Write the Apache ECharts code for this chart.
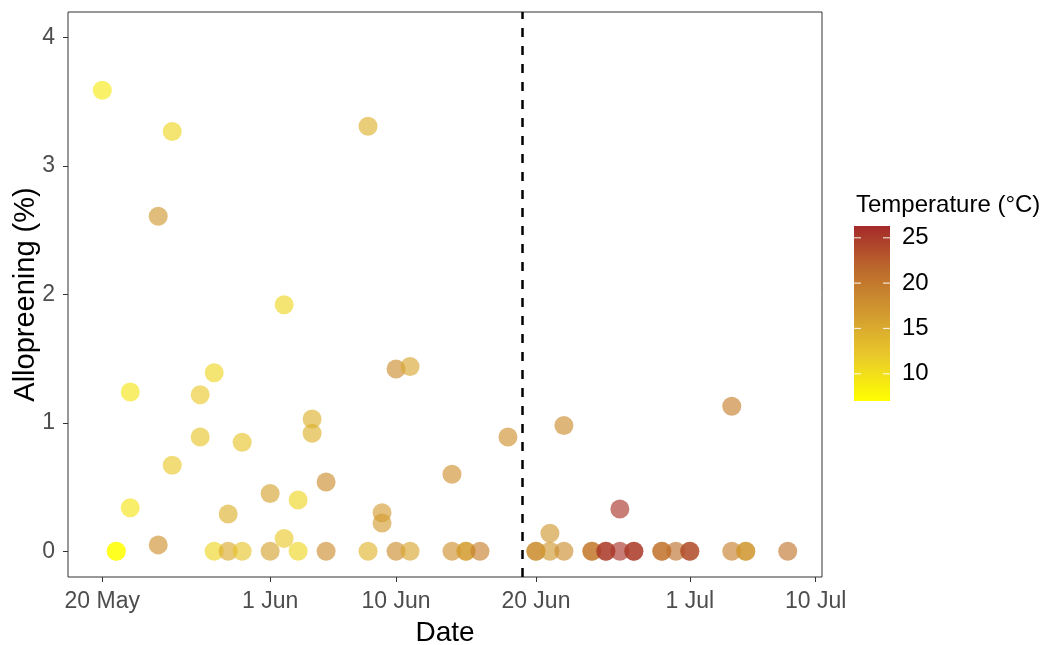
<!DOCTYPE html>
<html>
<head>
<meta charset="utf-8">
<script src="https://cdn.jsdelivr.net/npm/echarts@6/dist/echarts.min.js"></script>
<style>
html,body{margin:0;padding:0;background:#fff;}
#c{width:1049px;height:645px;}
</style>
</head>
<body>
<div id="c"></div>
<script>
// ---- data ----
const dates = [
 "2019-05-20","2019-05-21","2019-05-21","2019-05-22","2019-05-22","2019-05-24","2019-05-24",
 "2019-05-25","2019-05-25","2019-05-27","2019-05-27","2019-05-28","2019-05-28","2019-05-29",
 "2019-05-29","2019-05-30","2019-05-30","2019-06-01","2019-06-01","2019-06-02","2019-06-02",
 "2019-06-03","2019-06-03","2019-06-04","2019-06-04","2019-06-05","2019-06-05","2019-06-08",
 "2019-06-08","2019-06-09","2019-06-09","2019-06-10","2019-06-10","2019-06-11","2019-06-11",
 "2019-06-14","2019-06-14","2019-06-15","2019-06-15","2019-06-16","2019-06-18","2019-06-20",
 "2019-06-20","2019-06-21","2019-06-21","2019-06-22","2019-06-22","2019-06-24","2019-06-24",
 "2019-06-25","2019-06-25","2019-06-26","2019-06-26","2019-06-27","2019-06-27","2019-06-29",
 "2019-06-29","2019-06-30","2019-07-01","2019-07-01","2019-07-04","2019-07-04","2019-07-05",
 "2019-07-05","2019-07-08"
];
const allopreening = [
 3.59,0,0,1.24,0.34,2.61,0.05,
 3.27,0.67,1.22,0.89,1.39,0,0.29,
 0,0.85,0,0.45,0,1.92,0.10,
 0.40,0,1.03,0.92,0.54,0,3.31,
 0,0.30,0.22,1.42,0,1.44,0,
 0.60,0,0,0,0,0.89,0,
 0,0.14,0,0.98,0,0,0,
 0,0,0.33,0,0,0,0,
 0,0,0,0,1.13,0,0,
 0,0
];
const temperature = [
 9,7,7,9.5,9.5,17,17.5,
 11,12,12,12.5,11,11,14.5,
 15,12.5,12.5,16,16,11,12,
 11,11,14.5,14.5,18,18,14.5,
 14,16.5,16.5,18,18,15.5,15.5,
 17.5,17.5,16.5,16.5,19.5,17.5,18,
 18,17,17,18,18,20,20,
 25,25,25.5,25.5,25,25,20.5,
 20.5,21,23.5,23.5,19.5,19.5,17,
 17,20.5
];
const vlineDate = "2019-06-19";
const xTickDates = ["2019-05-20","2019-06-01","2019-06-10","2019-06-20","2019-07-01","2019-07-10"];
const xTickLabels = ["20 May","1 Jun","10 Jun","20 Jun","1 Jul","10 Jul"];
const yTicks = [0,1,2,3,4];
const yLimits = [0,4];
const tempRange = [7,26.3];
const tempTicks = [10,15,20,25];
const gradientColors = ["#FFFF00","#EACB2A","#D29A30","#BC6A2C","#A52A2A"];

// ---- build ----
function ts(s){const p=s.split("-").map(Number);return Date.UTC(p[0],p[1]-1,p[2]);}
const pts = dates.map((d,i)=>[ts(d), allopreening[i], temperature[i]]);
const xs = pts.map(p=>p[0]);
const xMinD = Math.min(...xs), xMaxD = Math.max(...xs);
const xSpan = xMaxD - xMinD;
const xMin = xMinD - 0.05*xSpan, xMax = xMaxD + 0.05*xSpan;
const ySpan = yLimits[1]-yLimits[0];
const yMin = yLimits[0]-0.05*ySpan, yMax = yLimits[1]+0.05*ySpan;
const xTickVals = xTickDates.map(ts);
const FONT = '"Liberation Sans", Arial, sans-serif';

const chart = echarts.init(document.getElementById('c'), null, {renderer:'canvas'});

// colorbar legend geometry
const cb = {x:854, y:226, w:36, h:175};
const graphics = [];
const stops = gradientColors.map((c,i)=>({offset:1 - i/(gradientColors.length-1), color:c}));
graphics.push({type:'rect', shape:{x:cb.x,y:cb.y,width:cb.w,height:cb.h},
  style:{fill:new echarts.graphic.LinearGradient(0,0,0,1,stops.slice().reverse())}});
tempTicks.forEach(v=>{
  const yy = cb.y + cb.h - (v-tempRange[0])/(tempRange[1]-tempRange[0])*cb.h;
  graphics.push({type:'line', shape:{x1:cb.x,y1:yy,x2:cb.x+7,y2:yy}, style:{stroke:'#fff',lineWidth:1.2,opacity:0.8}});
  graphics.push({type:'line', shape:{x1:cb.x+cb.w-7,y1:yy,x2:cb.x+cb.w,y2:yy}, style:{stroke:'#fff',lineWidth:1.2,opacity:0.8}});
  graphics.push({type:'text', x:cb.x+cb.w+12, y:yy, style:{text:String(v), fill:'#000', font:'24px '+FONT, textVerticalAlign:'middle', textAlign:'left'}});
});
graphics.push({type:'text', x:856, y:205, style:{text:'Temperature (°C)', fill:'#000', font:'24px '+FONT, textVerticalAlign:'middle', textAlign:'left'}});

const option = {
  backgroundColor:'#fff',
  animation:false,
  grid:{left:68, right:227, top:12, bottom:68, containLabel:false, outerBoundsMode:'none',
        show:true, borderColor:'#333', borderWidth:1, backgroundColor:'transparent'},
  xAxis:{
    type:'value', min:xMin, max:xMax,
    name:'Date', nameLocation:'middle', nameGap:42, nameMoveOverlap:false,
    nameTextStyle:{fontSize:28, color:'#000', fontFamily:FONT},
    axisLine:{show:false, onZero:false},
    axisTick:{show:true, inside:false, length:5, lineStyle:{color:'#333'}, customValues:xTickVals},
    axisLabel:{color:'#4D4D4D', fontSize:23, margin:13, fontFamily:FONT,
      customValues:xTickVals,
      formatter:(v)=>{const i=xTickVals.indexOf(v);return i>=0?xTickLabels[i]:'';}},
    splitLine:{show:false}
  },
  yAxis:{
    type:'value', min:yMin, max:yMax,
    name:'Allopreening (%)', nameLocation:'middle', nameGap:28, nameMoveOverlap:false,
    nameTextStyle:{fontSize:29, color:'#000', fontFamily:FONT},
    axisLine:{show:false, onZero:false},
    axisTick:{show:true, inside:false, length:5, lineStyle:{color:'#333'}, customValues:yTicks},
    axisLabel:{color:'#4D4D4D', fontSize:23, margin:13, fontFamily:FONT, customValues:yTicks},
    splitLine:{show:false}
  },
  visualMap:{
    show:false, type:'continuous', dimension:2, seriesIndex:0,
    min:tempRange[0], max:tempRange[1],
    inRange:{color:gradientColors}
  },
  series:[
    {
      type:'scatter', data:pts, symbol:'circle', symbolSize:19,
      itemStyle:{opacity:0.64},
      emphasis:{disabled:true},
      z:3
    },
    {
      type:'scatter', data:[],
      markLine:{
        silent:true, symbol:['none','none'], label:{show:false},
        lineStyle:{color:'#000', type:[9,9], width:2.5},
        data:[{xAxis:ts(vlineDate)}]
      },
      z:4
    }
  ],
  graphic:graphics
};
chart.setOption(option);
</script>
</body>
</html>
